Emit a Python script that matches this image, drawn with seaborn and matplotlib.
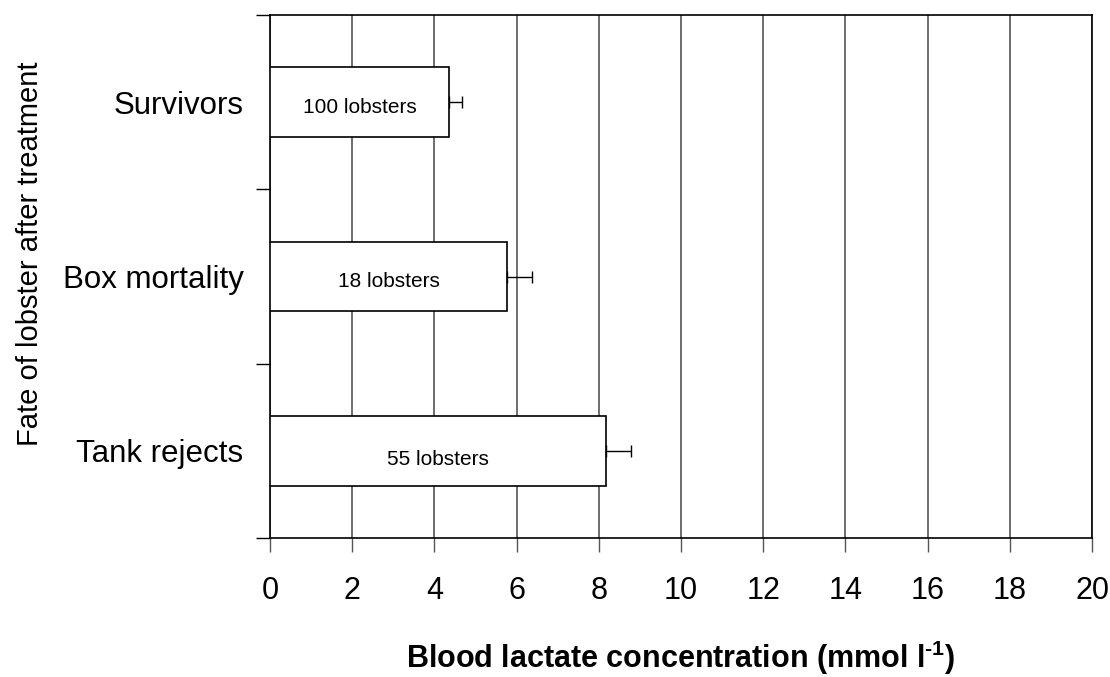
import numpy as np
import pandas as pd
import matplotlib
matplotlib.use("Agg")
import matplotlib.pyplot as plt
import seaborn as sns

# datos
categorias = ['Survivors', 'Box mortality', 'Tank rejects']
lactato = [4.36, 5.77, 8.17]
error = [0.31, 0.60, 0.62]
etiquetas = ['100 lobsters', '18 lobsters', '55 lobsters']
xticks = list(range(0, 21, 2))

sns.set_theme(style="white")
plt.rcParams['font.family'] = ['Liberation Sans', 'DejaVu Sans']
plt.rcParams['mathtext.fontset'] = 'custom'
plt.rcParams['mathtext.rm'] = 'Liberation Sans:bold'
plt.rcParams['mathtext.bf'] = 'Liberation Sans:bold'
plt.rcParams['text.color'] = 'black'
plt.rcParams['axes.labelcolor'] = 'black'
plt.rcParams['xtick.color'] = 'black'
plt.rcParams['ytick.color'] = 'black'

df = pd.DataFrame({'fate': categorias, 'lactate': lactato})

fig = plt.figure(figsize=(11.1, 6.77), dpi=100)
ax = fig.add_axes([0.2432, 0.2053, 0.7406, 0.7725])

sns.barplot(data=df, x='lactate', y='fate', orient='h', color='white',
            edgecolor='black', linewidth=1.2, width=0.4, saturation=1,
            errorbar=None, ax=ax, zorder=3)
# barras de error solo hacia la derecha
ax.errorbar(lactato, range(len(categorias)), xerr=[np.zeros(3), error],
            fmt='none', ecolor='black', elinewidth=1, capsize=4, capthick=1, zorder=4)

for i, t in enumerate(etiquetas):
    ax.text(lactato[i] / 2, i + 0.03 + 0.02 * (i == 2), t, ha='center', va='center',
            fontsize=15, zorder=5)

ax.set_xlim(0, 20)
ax.set_ylim(2.5, -0.5)
ax.set_xticks(xticks)
ax.set_xticklabels([str(v) for v in xticks], fontsize=22)
ax.set_yticks(range(3))
ax.set_yticklabels(categorias, fontsize=22.5)
ax.set_yticks([-0.5, 0.5, 1.5, 2.5], minor=True)
ax.tick_params(axis='y', which='major', length=0, pad=19)
ax.tick_params(axis='y', which='minor', length=10, width=1, color='black', left=True)
ax.tick_params(axis='x', which='major', length=10, width=1, color='#555555', bottom=True, pad=17)

ax.grid(axis='x', color='#555555', linewidth=1.2)
ax.set_axisbelow(True)
for s in ax.spines.values():
    s.set_color('black')
    s.set_linewidth(1.2)

ax.set_xlabel(r'Blood lactate concentration (mmol l$^{\text{-1}}$)', fontsize=22,
              fontweight='bold', labelpad=24)
ax.set_ylabel('Fate of lobster after treatment', fontsize=21)
ax.yaxis.set_label_coords(-0.275, 0.543)

fig.savefig('out.png', dpi=100)
